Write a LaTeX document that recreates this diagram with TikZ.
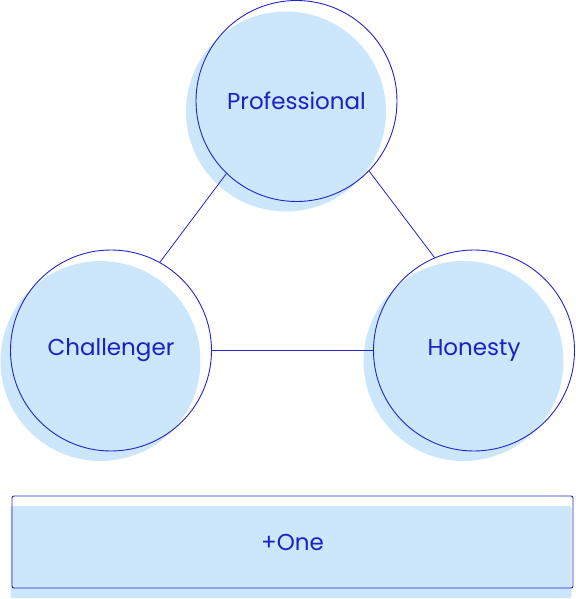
\documentclass[tikz,border=0pt]{standalone}
\usepackage{fontspec}
\setmainfont{Poppins}
\usetikzlibrary{positioning}
\definecolor{ringBlue}{HTML}{2424C8}
\definecolor{textBlue}{HTML}{1A22C0}
\definecolor{lightBlue}{HTML}{CCE6FB}
\pgfdeclarelayer{main_bg}
\pgfsetlayers{main_bg,main}

\begin{document}
\begin{tikzpicture}[x=1pt, y=-1pt, inner sep=0.0 pt, align=center, text=textBlue, font=\fontsize{23}{26}\selectfont]
    \pgfmathsetmacro{\ringSize}{201}
    \pgfmathsetmacro{\shadowSize}{200}
    \pgfmathsetmacro{\boxWidth}{561}
    \pgfmathsetmacro{\boxHeight}{92}
    \pgfmathsetmacro{\shiftX}{10.5}
    \pgfmathsetmacro{\shiftY}{10.5}

    \useasboundingbox (0,0) rectangle (575,599);

    \node (prof) [draw=ringBlue, line width=0.9pt, circle, minimum size=\ringSize pt] at (296.5,101) {Professional};
    \node (chal) [draw=ringBlue, line width=0.9pt, circle, minimum size=\ringSize pt] at (111,350.5) {Challenger};
    \node (hon) [draw=ringBlue, line width=0.9pt, circle, minimum size=\ringSize pt] at (474,350.5) {Honesty};
    \node (one) [draw=ringBlue, line width=0.9pt, rectangle, rounded corners=2pt, minimum width=\boxWidth pt, minimum height=\boxHeight pt] at (292.5,542) {+One};

    \draw [ringBlue, line width=0.8pt] (prof.226) -- (chal.61.5);
    \draw [ringBlue, line width=0.8pt] (prof.-44) -- (hon.113);
    \draw [ringBlue, line width=0.8pt] (chal.east) -- (hon.west);

    \begin{pgfonlayer}{main_bg}
        \node (prof_bg) [fill=lightBlue, circle, minimum size=\shadowSize pt] at ([xshift=-\shiftX pt, yshift=-\shiftY pt]prof.center) {};
        \node (chal_bg) [fill=lightBlue, circle, minimum size=\shadowSize pt] at ([xshift=-\shiftX pt, yshift=-\shiftY pt]chal.center) {};
        \node (hon_bg) [fill=lightBlue, circle, minimum size=\shadowSize pt] at ([xshift=-\shiftX pt, yshift=-\shiftY pt]hon.center) {};
        \node (one_bg) [fill=lightBlue, rectangle, rounded corners=2pt, minimum width=\boxWidth pt, minimum height=\boxHeight pt] at ([xshift=-1.5pt, yshift=-10pt]one.center) {};
    \end{pgfonlayer}

\end{tikzpicture}
\end{document}
